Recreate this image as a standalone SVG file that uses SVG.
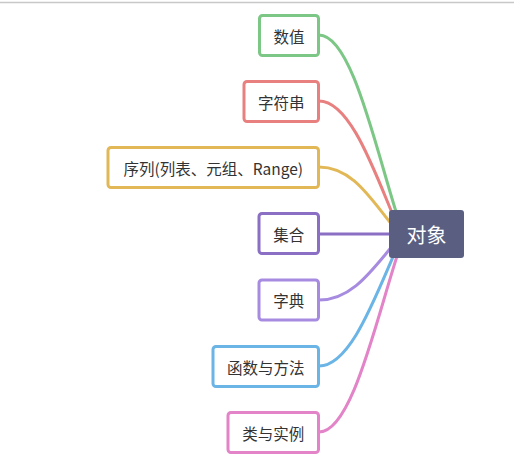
<svg xmlns="http://www.w3.org/2000/svg" width="514" height="469" viewBox="0 0 514 469">
<style>
.n rect{fill:#fff;stroke-width:3}
.n text{font-family:"Noto Sans CJK SC","Noto Sans",sans-serif;font-size:15.5px;fill:#333;text-anchor:middle;dominant-baseline:central}
.c path{fill:none;stroke-width:3;stroke-linecap:round}
</style>
<rect x="0" y="0" width="514" height="469" fill="#fff"/>
<line x1="0" y1="2.5" x2="514" y2="2.5" stroke="#c8c8c8" stroke-width="1.5"/>
<g class="c">
<path d="M319,35 C352,35 376,150 398,218" stroke="#7cc785"/>
<path d="M319,101 C350,101 374,170 395,220" stroke="#e88080"/>
<path d="M319,167 C352,167 370,198 393,226" stroke="#e2b857"/>
<path d="M319,234 L395,234" stroke="#8a6fc4"/>
<path d="M319,300 C352,300 372,270 394,244" stroke="#a78be0"/>
<path d="M319,366 C350,366 374,300 396,250" stroke="#6ab4e6"/>
<path d="M319,432 C352,432 376,320 399,250" stroke="#e383c8"/>
</g>
<g id="center">
<rect x="389" y="210" width="75" height="48" rx="3" fill="#5a5f82"/>
<text x="426.5" y="234" font-family="'Noto Sans CJK SC','Noto Sans',sans-serif" font-size="20" fill="#fff" text-anchor="middle" dominant-baseline="central">对象</text>
</g>
<g id="n1" class="n"><rect x="259.5" y="15.5" width="59" height="40" rx="3" stroke="#7cc785"/><text x="289" y="35.5">数值</text></g>
<g id="n2" class="n"><rect x="244" y="81.5" width="74.5" height="40" rx="3" stroke="#e88080"/><text x="281.25" y="101.5">字符串</text></g>
<g id="n3" class="n"><rect x="108" y="147.5" width="210.5" height="40" rx="3" stroke="#e2b857"/><text x="213.25" y="167.5">序列(列表、元组、Range)</text></g>
<g id="n4" class="n"><rect x="259" y="213.5" width="59.5" height="40" rx="3" stroke="#8a6fc4"/><text x="288.75" y="233.5">集合</text></g>
<g id="n5" class="n"><rect x="259" y="280" width="59.5" height="40" rx="3" stroke="#a78be0"/><text x="288.75" y="300">字典</text></g>
<g id="n6" class="n"><rect x="213" y="346.5" width="105.5" height="40" rx="3" stroke="#6ab4e6"/><text x="265.75" y="366.5">函数与方法</text></g>
<g id="n7" class="n"><rect x="228" y="412.5" width="90.5" height="40" rx="3" stroke="#e383c8"/><text x="273.25" y="432.5">类与实例</text></g>
</svg>
